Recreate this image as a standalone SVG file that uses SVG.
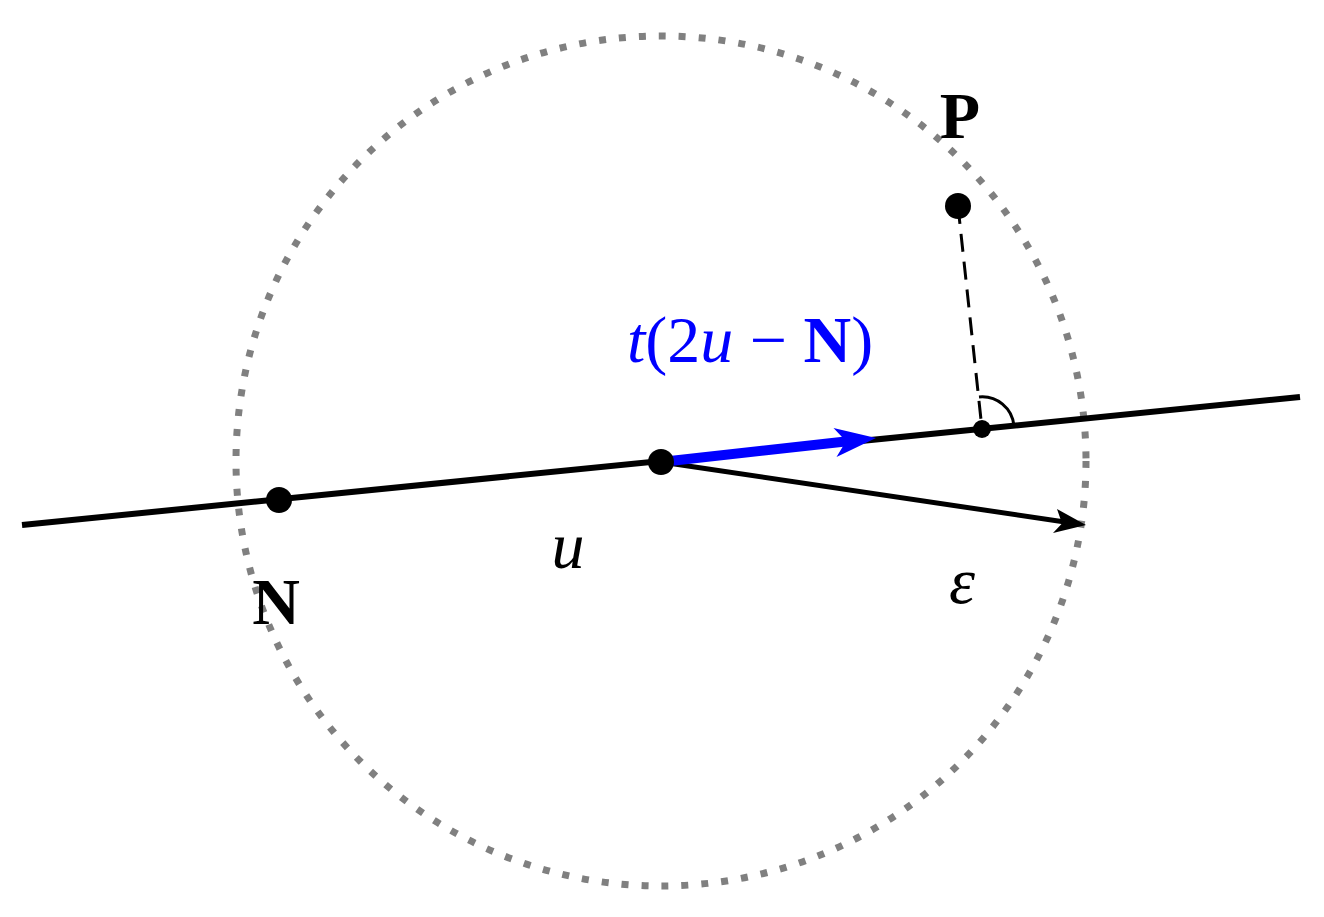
<svg xmlns="http://www.w3.org/2000/svg" width="1324" height="917" viewBox="0 0 1324 917">
<style>
.lbl{font-family:"Liberation Serif",serif;font-size:66px}
.b{font-weight:bold}
.i{font-style:italic}
</style>
<rect width="1324" height="917" fill="#fff"/>
<circle cx="661" cy="461" r="425" fill="none" stroke="#808080" stroke-width="7" stroke-dasharray="7,13"/>
<g id="connectors">
<line x1="22" y1="525" x2="1300" y2="397" stroke="#000" stroke-width="6"/>
<line x1="661" y1="462" x2="1075" y2="523.5" stroke="#000" stroke-width="5"/>
<path d="M1086,525 L1053,533 L1062,523.5 L1057,509 Z" fill="#000"/>
<line x1="661" y1="462" x2="850" y2="441" stroke="#00f" stroke-width="10"/>
<path d="M876,438 L836.5,457 L846,441.2 L833.5,428 Z" fill="#00f"/>
<line x1="958" y1="206" x2="982" y2="429" stroke="#000" stroke-width="3" stroke-dasharray="18,10"/>
<path d="M979,397 A32,32 0 0 1 1014,426" fill="none" stroke="#000" stroke-width="3"/>
</g>
<g id="N"><circle cx="279" cy="500" r="13"/><text class="lbl b" x="276" y="624" text-anchor="middle">N</text></g>
<g id="C"><circle cx="661" cy="462" r="13"/></g>
<g id="F"><circle cx="982" cy="429" r="9"/></g>
<g id="P"><circle cx="958" cy="206" r="13"/><text class="lbl b" x="960" y="138" text-anchor="middle">P</text></g>
<text class="lbl i" x="568" y="568" text-anchor="middle">u</text>
<text class="lbl i" x="962" y="603" text-anchor="middle">ε</text>
<text class="lbl" x="750" y="362" text-anchor="middle" fill="#00f" font-size="88"><tspan class="i">t</tspan>(2<tspan class="i">u</tspan> − <tspan class="b">N</tspan>)</text>
</svg>
